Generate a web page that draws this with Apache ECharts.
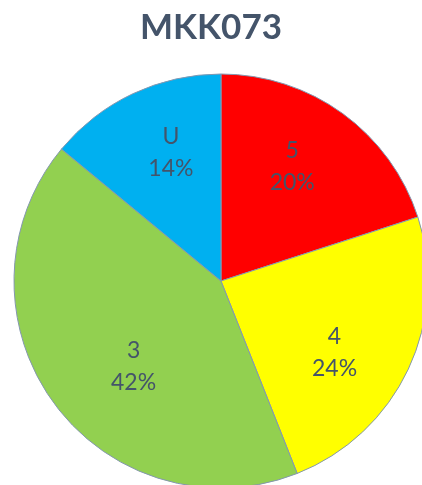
<!DOCTYPE html>
<html>
<head>
<meta charset="utf-8">
<script src="https://cdn.jsdelivr.net/npm/echarts@6/dist/echarts.min.js"></script>
<style>
html, body { margin: 0; padding: 0; background: #fff; }
#chart { width: 422px; height: 485px; }
</style>
</head>
<body>
<div id="chart"></div>
<script>
const categories = ["5", "4", "3", "U"];
const values = [20, 24, 42, 14];
const colors = ["#FF0000", "#FFFF00", "#92D050", "#00B0F0"];
// small nudges so labels sit where the original best-fit put them
const labelOffsets = [[-9, -4], [-10, 13], [23, 5], [8, -5]];

const pieData = categories.map((c, i) => ({
    name: c,
    value: values[i],
    itemStyle: { color: colors[i] }
}));

const chart = echarts.init(document.getElementById("chart"));
chart.setOption({
    animation: false,
    title: {
        text: "MKK073",
        left: "center",
        top: 5,
        textStyle: {
            fontFamily: "Lato",
            fontWeight: "bold",
            fontSize: 35,
            color: "#44546A"
        }
    },
    series: [
        {
            type: "pie",
            center: [221, 281],
            radius: [0, 207],
            startAngle: 90,
            clockwise: true,
            silent: true,
            label: { show: false },
            labelLine: { show: false },
            itemStyle: { borderColor: "#8497B0", borderWidth: 1 },
            data: pieData
        },
        {
            // transparent ring only used to place the labels further out
            type: "pie",
            center: [221, 281],
            radius: [60, 207],
            startAngle: 90,
            clockwise: true,
            silent: true,
            itemStyle: { color: "rgba(0,0,0,0)", borderWidth: 0 },
            label: {
                show: true,
                position: "inside",
                formatter: p => p.name + "\n" + p.value + "%",
                fontFamily: "Lato",
                fontSize: 23,
                lineHeight: 32,
                color: "#44546A"
            },
            labelLine: { show: false },
            data: categories.map((c, i) => ({
                name: c,
                value: values[i],
                label: { offset: labelOffsets[i] }
            }))
        }
    ]
});
</script>
</body>
</html>
